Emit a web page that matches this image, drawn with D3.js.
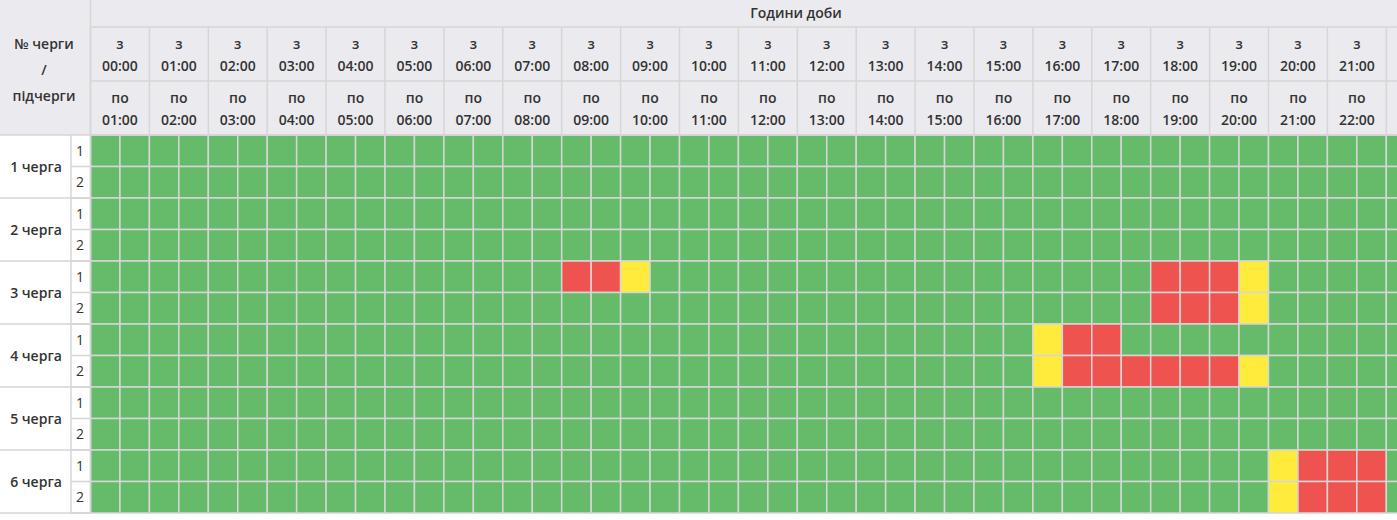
<!DOCTYPE html>
<html><head><meta charset="utf-8">
<script src="https://cdn.jsdelivr.net/npm/d3@7"></script>
<style>
body{margin:0;background:#fff;font-family:"Open Sans",sans-serif;}
text{fill:#333;font-size:14px;}
</style></head><body>
<svg id="chart" width="1397" height="520"></svg>
<script>
// data
let queues = ["1 черга", "2 черга", "3 черга", "4 черга", "5 черга", "6 черга"]
let subQueues = ["1", "2"]
let hours = d3.range(24).map(h => String(h).padStart(2, "0") + ":00")
// 0 = світло є, 1 = немає, 2 = можливе відключення (по півгодини)
let status_1_1 = Array(48).fill(0)
let status_1_2 = Array(48).fill(0)
let status_2_1 = Array(48).fill(0)
let status_2_2 = Array(48).fill(0)
let status_3_1 = [0,0,0,0,0,0,0,0,0,0,0,0,0,0,0,0,1,1,2,0,0,0,0,0,0,0,0,0,0,0,0,0,0,0,0,0,1,1,1,2,0,0,0,0,0,0,0,0]
let status_3_2 = [0,0,0,0,0,0,0,0,0,0,0,0,0,0,0,0,0,0,0,0,0,0,0,0,0,0,0,0,0,0,0,0,0,0,0,0,1,1,1,2,0,0,0,0,0,0,0,0]
let status_4_1 = [0,0,0,0,0,0,0,0,0,0,0,0,0,0,0,0,0,0,0,0,0,0,0,0,0,0,0,0,0,0,0,0,2,1,1,0,0,0,0,0,0,0,0,0,0,0,0,0]
let status_4_2 = [0,0,0,0,0,0,0,0,0,0,0,0,0,0,0,0,0,0,0,0,0,0,0,0,0,0,0,0,0,0,0,0,2,1,1,1,1,1,1,2,0,0,0,0,0,0,0,0]
let status_5_1 = Array(48).fill(0)
let status_5_2 = Array(48).fill(0)
let status_6_1 = [0,0,0,0,0,0,0,0,0,0,0,0,0,0,0,0,0,0,0,0,0,0,0,0,0,0,0,0,0,0,0,0,0,0,0,0,0,0,0,0,2,1,1,1,0,0,0,0]
let status_6_2 = [0,0,0,0,0,0,0,0,0,0,0,0,0,0,0,0,0,0,0,0,0,0,0,0,0,0,0,0,0,0,0,0,0,0,0,0,0,0,0,0,2,1,1,1,0,0,0,0]
let rows = [status_1_1, status_1_2, status_2_1, status_2_2, status_3_1, status_3_2,
            status_4_1, status_4_2, status_5_1, status_5_2, status_6_1, status_6_2]

let colors = ["#66bb6a", "#ef5350", "#ffeb3b"]
let lineColor = "#d6d6d6"
let headBg = "#ebebef"

let x0 = 90.5, hourW = 58.9, yTop = 135, yBottom = 513
let svg = d3.select("#chart")

let x = d3.scaleBand().domain(d3.range(48)).range([x0, x0 + 24 * hourW])
let xh = d3.scaleBand().domain(hours).range([x0, x0 + 24 * hourW])
let y = d3.scaleBand().domain(d3.range(12)).range([yTop, yBottom])
let yq = d3.scaleBand().domain(queues).range([yTop, yBottom])

// header background
svg.append("rect").attr("x", 0).attr("y", 0).attr("width", 1397).attr("height", yTop).attr("fill", headBg)

// cells
rows.forEach((r, i) => {
    svg.append("g").selectAll("rect").data(r).join("rect")
        .attr("x", (d, j) => x(j)).attr("y", y(i))
        .attr("width", x.bandwidth()).attr("height", y.bandwidth())
        .attr("fill", d => colors[d])
        .attr("stroke", lineColor).attr("stroke-width", 1.5)
})

// header lines
let g = svg.append("g").attr("stroke", lineColor).attr("stroke-width", 1.5)
g.append("line").attr("x1", x0).attr("x2", 1397).attr("y1", 27).attr("y2", 27)
g.append("line").attr("x1", x0).attr("x2", 1397).attr("y1", 81).attr("y2", 81)
g.append("line").attr("x1", 0).attr("x2", 1397).attr("y1", yTop).attr("y2", yTop)
g.append("line").attr("x1", x0).attr("x2", x0).attr("y1", 0).attr("y2", yBottom)
hours.forEach(h => {
    g.append("line").attr("x1", xh(h)).attr("x2", xh(h)).attr("y1", 27).attr("y2", yTop)
})
// left column lines
g.append("line").attr("x1", 71).attr("x2", 71).attr("y1", yTop).attr("y2", yBottom)
queues.forEach(q => {
    g.append("line").attr("x1", 0).attr("x2", x0).attr("y1", yq(q) + yq.bandwidth()).attr("y2", yq(q) + yq.bandwidth())
})
d3.range(12).forEach(i => {
    g.append("line").attr("x1", 71).attr("x2", x0).attr("y1", y(i) + y.bandwidth()).attr("y2", y(i) + y.bandwidth())
})

// header texts
svg.append("text").text("Години доби").attr("x", 796).attr("y", 18)
    .attr("text-anchor", "middle").style("font-weight", 600)
let lt = svg.append("text").attr("text-anchor", "middle").style("font-weight", 600)
;["№ черги", "/", "підчерги"].forEach((t, i) => lt.append("tspan").text(t).attr("x", 44).attr("y", 49 + i * 26))

hours.forEach((h, i) => {
    let cx = xh(h) + hourW / 2
    let next = i == 23 ? "24:00" : hours[i + 1]
    let t1 = svg.append("text").attr("text-anchor", "middle").style("font-weight", 600)
    t1.append("tspan").text("з").attr("x", cx).attr("y", 49)
    t1.append("tspan").text(h).attr("x", cx).attr("y", 71)
    let t2 = svg.append("text").attr("text-anchor", "middle").style("font-weight", 600)
    t2.append("tspan").text("по").attr("x", cx).attr("y", 103)
    t2.append("tspan").text(next).attr("x", cx).attr("y", 125)
})

// row labels
queues.forEach(q => {
    svg.append("text").text(q).attr("x", 36).attr("y", yq(q) + yq.bandwidth() / 2 + 5)
        .attr("text-anchor", "middle").style("font-weight", 600)
})
d3.range(12).forEach(i => {
    svg.append("text").text(subQueues[i % 2]).attr("x", 80).attr("y", y(i) + y.bandwidth() / 2 + 5)
        .attr("text-anchor", "middle")
})
</script></body></html>
